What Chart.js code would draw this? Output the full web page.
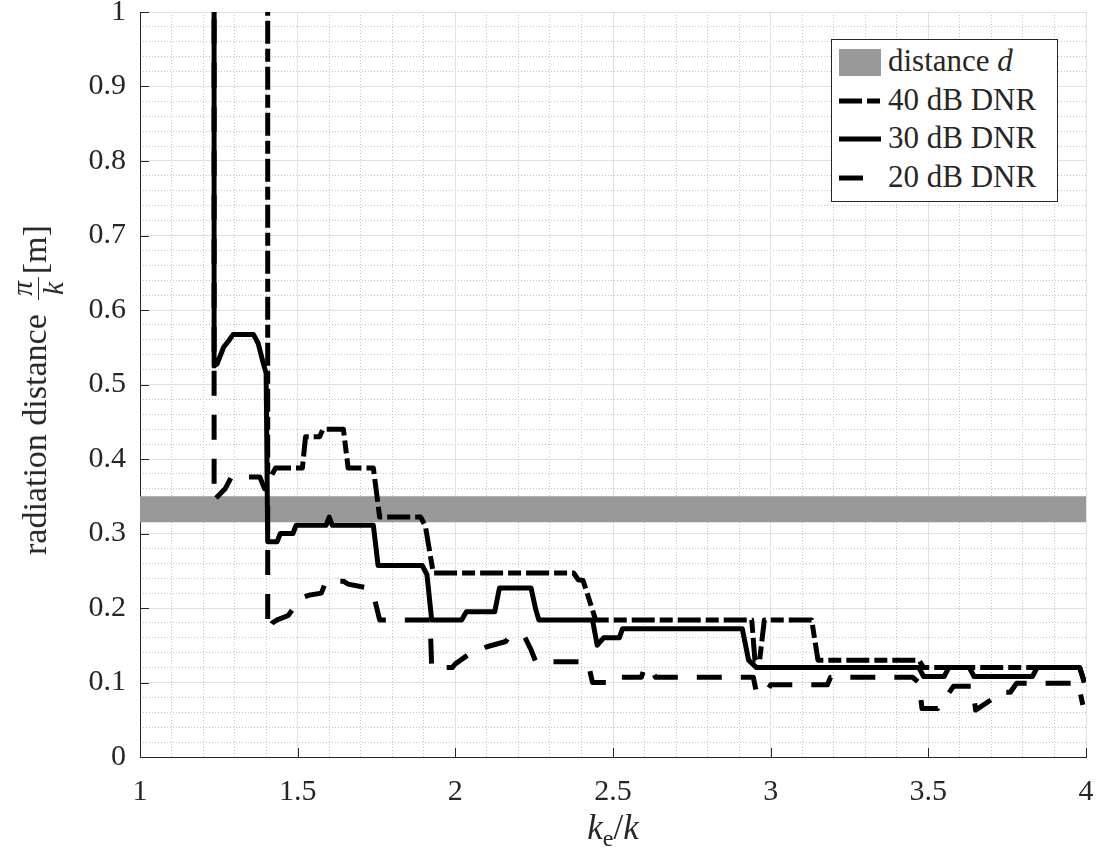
<!DOCTYPE html>
<html>
<head>
<meta charset="utf-8">
<script src="https://cdn.jsdelivr.net/npm/chart.js@4.4.1/dist/chart.umd.min.js"></script>
<style>
  html, body { margin: 0; padding: 0; background: #fff; }
  #wrap { position: relative; width: 1100px; height: 852px; }
  #wrap canvas { position: absolute; left: 0; top: 0; }
  .serif { font-family: "Liberation Serif", "Times New Roman", serif; color: #262626; white-space: nowrap; }
  #ylab { position: absolute; left: 38px; top: 390px; font-size: 34px; transform: translate(-50%, -50%) rotate(-90deg); }
  .frac { display: inline-flex; flex-direction: column; align-items: center; vertical-align: middle; font-size: 29px; font-style: italic; line-height: 1.0; margin: 0 3px 0 6px; }
  .frac span:first-child { border-bottom: 1.5px solid #262626; padding: 0 4px 1px; }
  #xlab { position: absolute; left: 613px; top: 830px; font-size: 35px; transform: translate(-50%, -50%); }
  #xlab sub { font-size: 24px; font-style: normal; vertical-align: -7px; }
  #legend { position: absolute; left: 831px; top: 39px; width: 225px; height: 161px; background: #fff; border: 1px solid #262626; }
  #legend .row { position: absolute; left: 0; height: 30px; }
  #legend svg { position: absolute; left: 7px; top: 0; }
  #legend .txt { position: absolute; left: 56px; top: -4px; font-size: 31px; line-height: 36px; }
</style>
</head>
<body>
<div id="wrap">
  <canvas id="c" width="1100" height="852"></canvas>
  <div id="ylab" class="serif">radiation distance <span class="frac"><span>&pi;</span><span>k</span></span>[m]</div>
  <div id="xlab" class="serif"><i>k</i><sub>e</sub>/<i>k</i></div>
  <div id="legend" class="serif">
    <div class="row" style="top:7px"><svg width="46" height="30"><rect x="0" y="2" width="42" height="27" fill="#999999"/></svg><div class="txt">distance <i>d</i></div></div>
    <div class="row" style="top:46px"><svg width="46" height="30"><line x1="0" y1="15" x2="42" y2="15" stroke="#000" stroke-width="5" stroke-dasharray="23 5 13 5"/></svg><div class="txt">40 dB DNR</div></div>
    <div class="row" style="top:84px"><svg width="46" height="30"><line x1="0" y1="15" x2="42" y2="15" stroke="#000" stroke-width="5"/></svg><div class="txt">30 dB DNR</div></div>
    <div class="row" style="top:123px"><svg width="46" height="30"><line x1="0" y1="15" x2="42" y2="15" stroke="#000" stroke-width="5" stroke-dasharray="24 19"/></svg><div class="txt">20 dB DNR</div></div>
  </div>
</div>
<script>
'use strict';

// distance d band
const bandX  = [1, 4];
const bandLo = [0.315, 0.315];
const bandHi = [0.35, 0.35];

// 40 dB DNR (dash-dot)
const x40 = [1.405, 1.405, 1.415, 1.43, 1.515, 1.525, 1.57, 1.58, 1.645, 1.66, 1.74, 1.76, 1.89, 1.905, 1.93,
             2.375, 2.39, 2.405, 2.445, 2.94, 2.95, 2.965, 2.98, 3.13, 3.15, 3.47, 3.485, 3.98, 3.995];
const y40 = [1.05, 0.38, 0.376, 0.388, 0.388, 0.43, 0.43, 0.44, 0.44, 0.388, 0.388, 0.322, 0.322, 0.31, 0.247,
             0.247, 0.238, 0.237, 0.184, 0.184, 0.13, 0.13, 0.184, 0.184, 0.13, 0.13, 0.12, 0.12, 0.1];

// 30 dB DNR (solid)
const x30 = [1.235, 1.235, 1.245, 1.265, 1.28, 1.295, 1.36, 1.375, 1.39, 1.40, 1.405, 1.435, 1.445, 1.485, 1.495,
             1.59, 1.60, 1.61, 1.74, 1.755, 1.895, 1.91, 1.925, 2.02, 2.035, 2.125, 2.14, 2.24, 2.255, 2.265,
             2.435, 2.45, 2.47, 2.52, 2.53, 2.91, 2.93, 2.955, 3.47, 3.485, 3.55, 3.565, 3.63, 3.645, 3.83, 3.845,
             3.98, 3.995];
const y30 = [1.05, 0.525, 0.528, 0.55, 0.558, 0.567, 0.567, 0.555, 0.53, 0.515, 0.289, 0.289, 0.300, 0.300, 0.311,
             0.311, 0.322, 0.311, 0.311, 0.257, 0.257, 0.245, 0.184, 0.184, 0.195, 0.195, 0.227, 0.227, 0.198, 0.184,
             0.184, 0.15, 0.16, 0.16, 0.172, 0.172, 0.13, 0.12, 0.12, 0.108, 0.108, 0.12, 0.12, 0.108, 0.108, 0.12,
             0.12, 0.1];

// 20 dB DNR (dashed)
const x20 = [1.235, 1.235, 1.27, 1.29, 1.38, 1.395, 1.405, 1.405, 1.42, 1.435, 1.47, 1.5, 1.52, 1.535, 1.575, 1.59,
             1.645, 1.66, 1.72, 1.745, 1.76, 1.92, 1.925, 1.99, 2.0, 2.04, 2.1, 2.16, 2.17, 2.22, 2.24, 2.255,
             2.42, 2.435, 2.49, 2.5, 2.59, 2.6, 2.62, 2.635, 2.945, 2.955, 2.985, 3.0, 3.18, 3.19, 3.45, 3.47,
             3.48, 3.53, 3.58, 3.64, 3.65, 3.70, 3.72, 3.76, 3.78, 3.975, 3.99];
const y20 = [1.05, 0.345, 0.36, 0.376, 0.376, 0.36, 0.36, 0.17, 0.18, 0.184, 0.19, 0.207, 0.215, 0.217, 0.22, 0.236,
             0.236, 0.232, 0.227, 0.21, 0.184, 0.184, 0.12, 0.12, 0.125, 0.137, 0.148, 0.155, 0.161, 0.161, 0.144, 0.128,
             0.128, 0.1, 0.1, 0.107, 0.107, 0.12, 0.12, 0.107, 0.107, 0.086, 0.086, 0.097, 0.097, 0.107, 0.107, 0.1,
             0.065, 0.065, 0.095, 0.095, 0.063, 0.077, 0.087, 0.087, 0.099, 0.099, 0.07];

const pts = (xs, ys) => xs.map((x, i) => ({ x, y: ys[i] }));

const INK = '#262626';
const tickFont = { family: '"Liberation Serif", "Times New Roman", serif', size: 30 };
const fmt = v => String(+Number(v).toFixed(2));

function noPad(s) { s.paddingTop = 0; s.paddingBottom = 0; s.paddingLeft = 0; s.paddingRight = 0; }

// MATLAB-style inward ticks on left and bottom axes
const inTicks = {
  id: 'inTicks',
  beforeDatasetsDraw(chart) {
    const { ctx, chartArea: a, scales: { x, y } } = chart;
    ctx.save();
    ctx.strokeStyle = INK; ctx.lineWidth = 1;
    ctx.beginPath();
    x.ticks.forEach(t => { const p = Math.round(x.getPixelForValue(t.value)) + 0.5; ctx.moveTo(p, a.bottom); ctx.lineTo(p, a.bottom - 9); });
    y.ticks.forEach(t => { const p = Math.round(y.getPixelForValue(t.value)) + 0.5; ctx.moveTo(a.left, p); ctx.lineTo(a.left + 9, p); });
    ctx.stroke();
    ctx.restore();
  }
};

const line = (data, dash) => ({
  data, borderColor: '#000', borderWidth: 5, borderDash: dash, borderCapStyle: 'butt',
  borderJoinStyle: 'round', pointRadius: 0, tension: 0, fill: false, order: 0
});

new Chart(document.getElementById('c'), {
  type: 'line',
  data: {
    datasets: [
      line(pts(x40, y40), [23, 5, 13, 5]),
      line(pts(x30, y30), []),
      line(pts(x20, y20), [25, 19]),
      { data: pts(bandX, bandHi), borderWidth: 0, pointRadius: 0, fill: '+1', backgroundColor: '#999999', order: 10 },
      { data: pts(bandX, bandLo), borderWidth: 0, pointRadius: 0, fill: false, order: 11 }
    ]
  },
  options: {
    responsive: false,
    animation: false,
    events: [],
    layout: { padding: { top: 12, right: 14, left: 0, bottom: 0 } },
    plugins: { legend: { display: false }, tooltip: { enabled: false } },
    scales: {
      xm: {
        type: 'linear', position: 'bottom', min: 1, max: 4,
        ticks: { display: false, stepSize: 0.1 },
        grid: { color: '#c4c4c4', lineWidth: 1, drawTicks: false },
        border: { display: false, dash: [1, 2] },
        afterFit(s) { s.height = 0; noPad(s); }
      },
      ym: {
        type: 'linear', position: 'left', min: 0, max: 1,
        ticks: { display: false, stepSize: 0.02 },
        grid: { color: '#c4c4c4', lineWidth: 1, drawTicks: false },
        border: { display: false, dash: [1, 2] },
        afterFit(s) { s.width = 0; noPad(s); }
      },
      x: {
        type: 'linear', position: 'bottom', min: 1, max: 4,
        ticks: { stepSize: 0.5, padding: 17, font: tickFont, color: INK, maxRotation: 0, autoSkip: false, callback: fmt },
        grid: { color: '#e1e1e1', lineWidth: 1, drawTicks: false },
        border: { color: INK, width: 1 },
        afterFit(s) { s.height = 95; noPad(s); }
      },
      y: {
        type: 'linear', position: 'left', min: 0, max: 1,
        ticks: { stepSize: 0.1, padding: 14, font: tickFont, color: INK, callback: fmt },
        grid: { color: '#e1e1e1', lineWidth: 1, drawTicks: false },
        border: { color: INK, width: 1 },
        afterFit(s) { s.width = 140; noPad(s); }
      }
    }
  },
  plugins: [inTicks]
});
</script>
</body>
</html>
